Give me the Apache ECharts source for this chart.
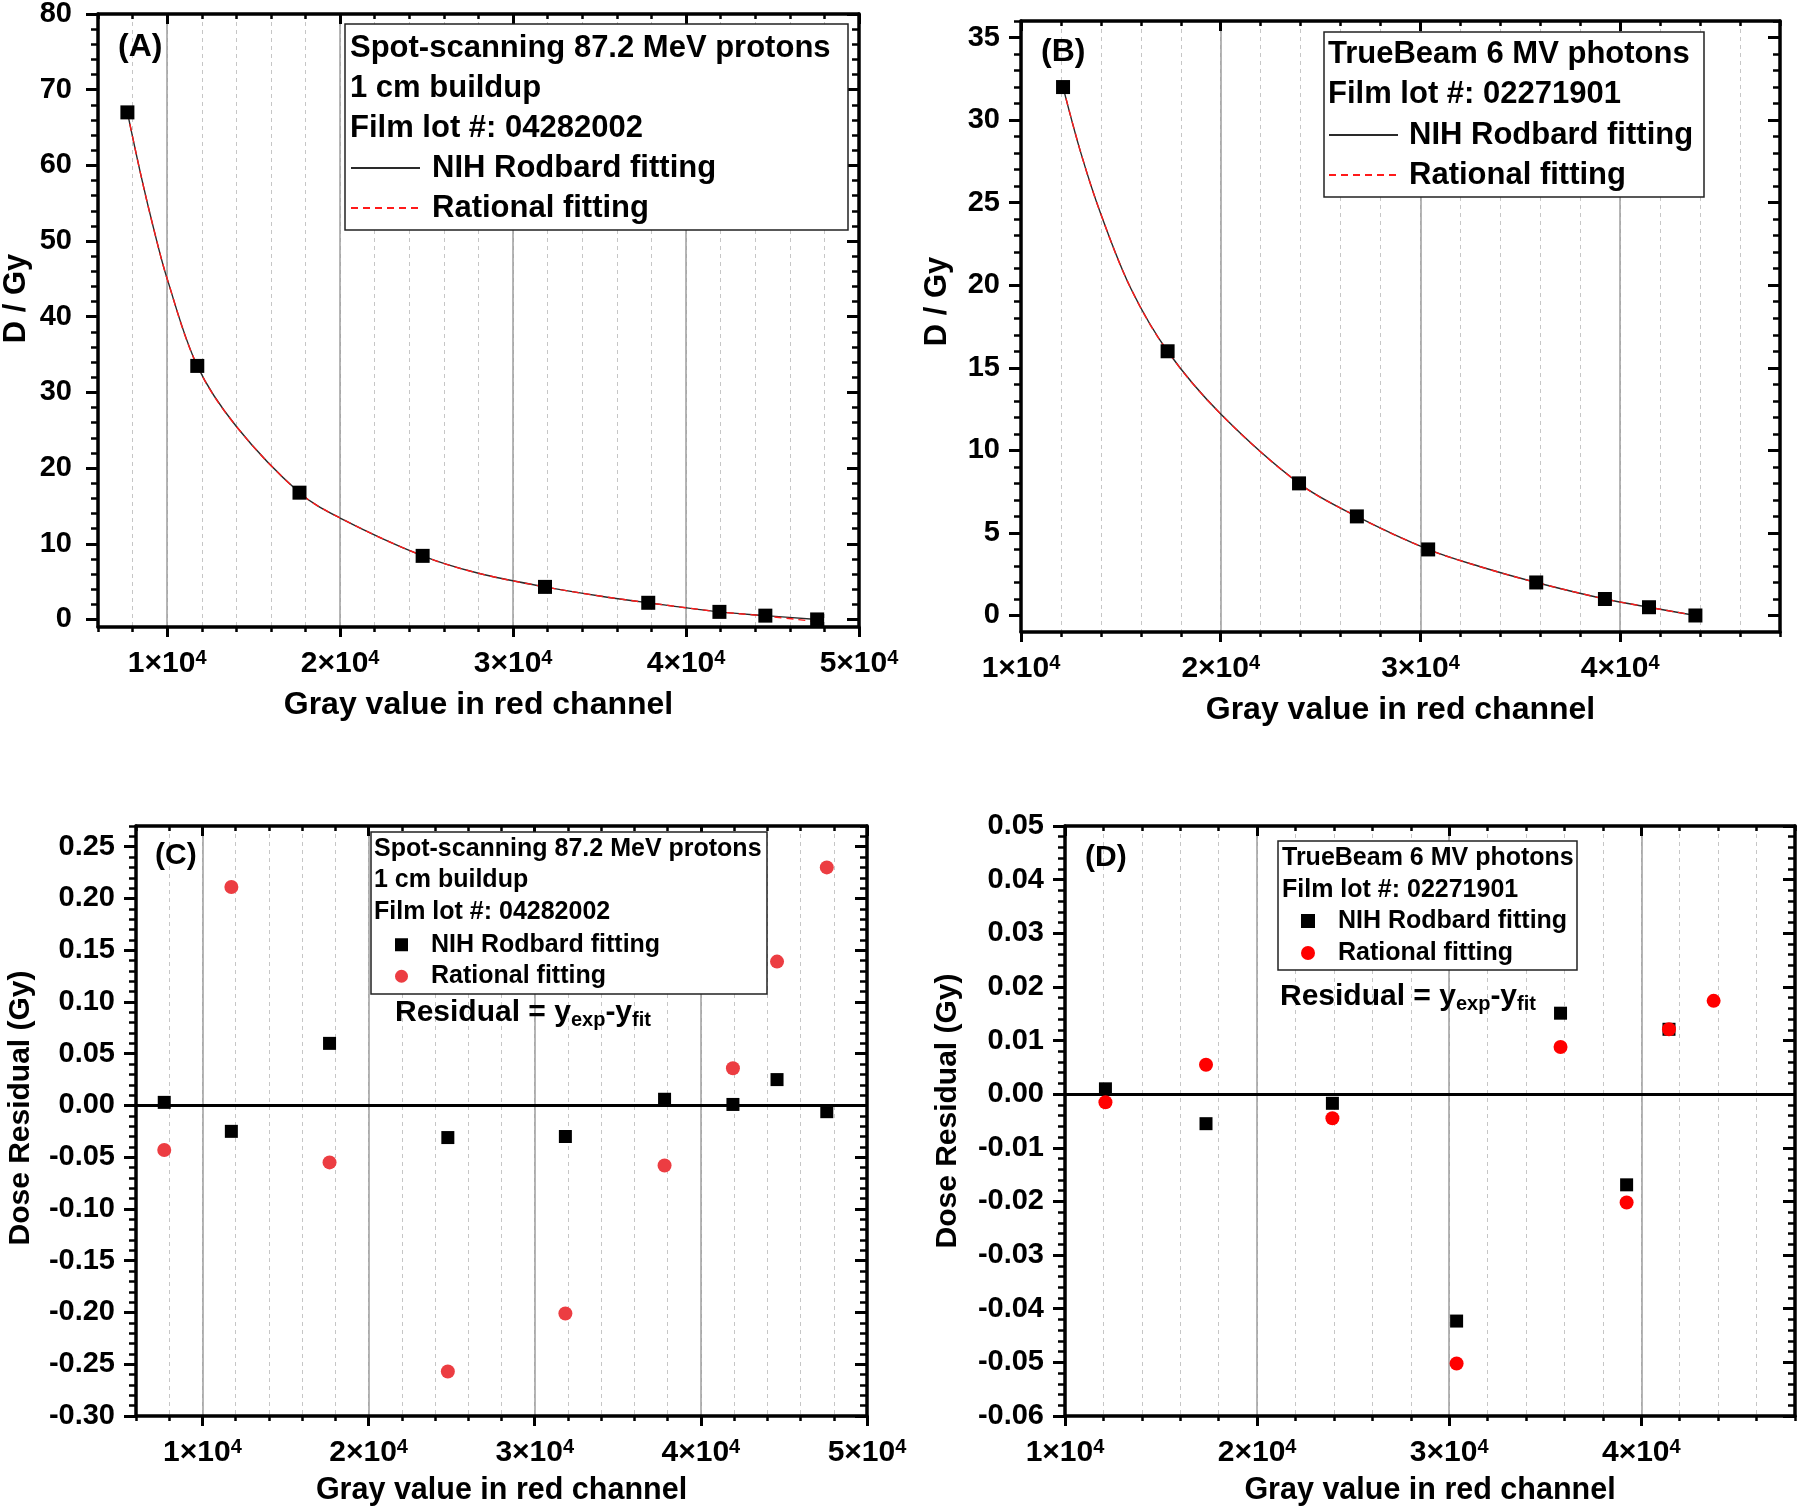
<!DOCTYPE html>
<html>
<head>
<meta charset="utf-8">
<title>Film calibration curves and dose residuals</title>
<script src="https://cdn.jsdelivr.net/npm/echarts@6.0.0/dist/echarts.min.js"></script>
<style>
  html, body { margin: 0; padding: 0; background: #fff; }
  #chart { width: 1800px; height: 1509px; }
</style>
</head>
<body>
<div id="chart"></div>
<script>
// values

// (A) spot-scanning 87.2 MeV protons, 1 cm buildup
const grayA = [7700, 11740, 17650, 24770, 31845, 37815, 41930, 44585, 47580];
const doseA = [67.0, 33.5, 16.75, 8.4, 4.3, 2.2, 1.0, 0.5, 0.0];
// both fitted curves, sampled along the drawn lines
const fitGrayA = [7700, 8500, 9200, 10000, 11740, 14000, 17650, 20000, 24770, 28000, 31845, 35000, 37815, 41930, 44585, 47580];
const rodbardA = [67.0, 58.5, 51.8, 45.0, 33.5, 25.5, 16.75, 13.4, 8.4, 6.1, 4.3, 3.1, 2.2, 1.0, 0.5, 0.0];
const rationalA = [67.0, 58.5, 51.8, 45.0, 33.5, 25.5, 16.75, 13.4, 8.4, 6.1, 4.3, 3.1, 2.2, 1.0, 0.45, -0.3];

// (B) TrueBeam 6 MV photons
const grayB = [12105, 17340, 23920, 26815, 30385, 35795, 39235, 41440, 43765];
const doseB = [32, 16, 8, 6, 4, 2, 1, 0.5, 0];
const fitGrayB = [12105, 13000, 14000, 15500, 17340, 20000, 23920, 26815, 30385, 33000, 35795, 39235, 41440, 43765];
const rodbardB = [32, 28.0, 24.3, 19.8, 16, 12.2, 8, 6, 4, 2.95, 2, 1, 0.5, 0];
const rationalB = [32, 28.0, 24.3, 19.8, 16, 12.2, 8, 6, 4, 2.95, 2, 1, 0.5, 0];

// (C) residuals of the proton fits
const grayC = [7700, 11740, 17650, 24770, 31845, 37815, 41930, 44585, 47580];
const residRodbardC = [0.003, -0.025, 0.060, -0.031, -0.030, 0.006, 0.001, 0.025, -0.006];
const residRationalC = [-0.043, 0.211, -0.055, -0.257, -0.201, -0.058, 0.036, 0.139, 0.230];

// (D) residuals of the photon fits (no black mark shows at the last point)
const grayD = [12105, 17340, 23920, 30385, 35795, 39235, 41440, 43765];
const residRodbardD = [0.001, -0.0055, -0.0017, -0.0423, 0.0151, -0.0169, 0.0121];
const residRationalD = [-0.0015, 0.0055, -0.0045, -0.0502, 0.0088, -0.0202, 0.0121, 0.0174];

// tick labels
const xTicksAC = [10000, 20000, 30000, 40000, 50000];
const xTicksBD = [10000, 20000, 30000, 40000];
const yTicksA = [0, 10, 20, 30, 40, 50, 60, 70, 80];
const yTicksB = [0, 5, 10, 15, 20, 25, 30, 35];
const yTicksC = [-0.30, -0.25, -0.20, -0.15, -0.10, -0.05, 0.00, 0.05, 0.10, 0.15, 0.20, 0.25];
const yTicksD = [-0.06, -0.05, -0.04, -0.03, -0.02, -0.01, 0.00, 0.01, 0.02, 0.03, 0.04, 0.05];

const protonLines = ['Spot-scanning 87.2 MeV protons', '1 cm buildup', 'Film lot #: 04282002'];
const photonLines = ['TrueBeam 6 MV photons', 'Film lot #: 02271901'];

const FONT = '"Liberation Sans", Arial, Helvetica, sans-serif';

const zip = (xs, ys) => ys.map((y, i) => [xs[i], y]);
const steps = (lo, hi, step) => {
    const n = Math.round((hi - lo) / step + 1e-9);
    const out = [];
    for (let i = 0; i <= n; i++) out.push(+(lo + i * step).toFixed(6));
    return out;
};

const panels = [
    {grid: {left: 98, top: 14, width: 761, height: 613}, xRange: [6000, 50000], yRange: [-1, 80],
        xTicks: xTicksAC, yTicks: yTicksA, yMinorStep: 2, yDigits: 0,
        yName: 'D / Gy', yNameGap: 66, yNameShift: 44, yNameSize: 31, yLabelMargin: 26, xNameGap: 62, xNameSize: 32},
    {grid: {left: 1021, top: 21, width: 759, height: 611}, xRange: [10000, 48000], yRange: [-1, 36],
        xTicks: xTicksBD, yTicks: yTicksB, yMinorStep: 1, yDigits: 0,
        yName: 'D / Gy', yNameGap: 68, yNameShift: 50, yNameSize: 31, yLabelMargin: 21, xNameGap: 62, xNameSize: 32},
    {grid: {left: 136, top: 826, width: 731, height: 590}, xRange: [6000, 50000], yRange: [-0.30, 0.27],
        xTicks: xTicksAC, yTicks: yTicksC, yMinorStep: 0.01, yDigits: 2,
        yName: 'Dose Residual (Gy)', yNameGap: 100, yNameShift: 26, yNameSize: 30, yLabelMargin: 21, xNameGap: 59, xNameSize: 30.5},
    {grid: {left: 1065, top: 826, width: 730, height: 590}, xRange: [10000, 48000], yRange: [-0.06, 0.05],
        xTicks: xTicksBD, yTicks: yTicksD, yMinorStep: 0.002, yDigits: 2,
        yName: 'Dose Residual (Gy)', yNameGap: 102, yNameShift: 20, yNameSize: 30, yLabelMargin: 21, xNameGap: 59, xNameSize: 30.5}
];

const frameLine = {show: true, onZero: false, lineStyle: {color: '#000', width: 3.5}};
const noLine = {show: false, onZero: false};
const tickMinor = (len, inside) => ({show: true, inside: inside, length: len, lineStyle: {color: '#000', width: 2.5}});
const tickMajor = (len, inside) => ({show: true, inside: inside, length: len, lineStyle: {color: '#000', width: 3}});

const sciRich = {
    b: {fontFamily: FONT, fontWeight: 'bold', fontSize: 30, color: '#000', lineHeight: 32},
    s: {fontFamily: FONT, fontWeight: 'bold', fontSize: 20, color: '#000', lineHeight: 15, verticalAlign: 'top'}
};

function xAxisSet(p, gi) {
    const [min, max] = p.xRange;
    const minor = steps(min, max, 2000);
    return [
        {
            type: 'value', gridIndex: gi, min: min, max: max, position: 'bottom',
            name: 'Gray value in red channel', nameLocation: 'middle', nameGap: p.xNameGap,
            nameTextStyle: {fontFamily: FONT, fontWeight: 'bold', fontSize: p.xNameSize, color: '#000'},
            axisLine: frameLine,
            axisTick: Object.assign(tickMinor(5, false), {customValues: minor}),
            axisLabel: {
                show: true, customValues: p.xTicks, margin: 21, rich: sciRich,
                formatter: v => '{b|' + Math.round(v / 10000) + '×10}{s|4}'
            },
            splitLine: {show: true, lineStyle: {color: '#c6c6c6', width: 1, type: [4, 4]}}
        },
        {
            type: 'value', gridIndex: gi, min: min, max: max, position: 'bottom',
            axisLine: noLine,
            axisTick: Object.assign(tickMajor(10, false), {customValues: p.xTicks}),
            axisLabel: {show: false},
            splitLine: {show: true, lineStyle: {color: '#9e9e9e', width: 1.5}}
        },
        {
            type: 'value', gridIndex: gi, min: min, max: max, position: 'top',
            axisLine: frameLine,
            axisTick: Object.assign(tickMinor(5, true), {customValues: minor}),
            axisLabel: {show: false}, splitLine: {show: false}
        },
        {
            type: 'value', gridIndex: gi, min: min, max: max, position: 'top',
            axisLine: noLine,
            axisTick: Object.assign(tickMajor(10, true), {customValues: p.xTicks}),
            axisLabel: {show: false}, splitLine: {show: false}
        }
    ];
}

function yAxisSet(p, gi) {
    const [min, max] = p.yRange;
    const minor = steps(p.yTicks[0], max, p.yMinorStep);
    return [
        {
            type: 'value', gridIndex: gi, min: min, max: max, position: 'left',
            name: p.yName, nameLocation: 'middle', nameGap: p.yNameGap,
            nameTextStyle: {fontFamily: FONT, fontWeight: 'bold', fontSize: p.yNameSize, color: '#000', padding: [0, 0, 0, p.yNameShift]},
            axisLine: frameLine,
            axisTick: Object.assign(tickMinor(7, false), {customValues: minor}),
            axisLabel: {
                show: true, customValues: p.yTicks, margin: p.yLabelMargin,
                fontFamily: FONT, fontWeight: 'bold', fontSize: 29, color: '#000',
                formatter: v => v.toFixed(p.yDigits)
            },
            splitLine: {show: false}
        },
        {
            type: 'value', gridIndex: gi, min: min, max: max, position: 'left',
            axisLine: noLine,
            axisTick: Object.assign(tickMajor(12, false), {customValues: p.yTicks}),
            axisLabel: {show: false}, splitLine: {show: false}
        },
        {
            type: 'value', gridIndex: gi, min: min, max: max, position: 'right',
            axisLine: frameLine,
            axisTick: Object.assign(tickMinor(7, true), {customValues: minor}),
            axisLabel: {show: false}, splitLine: {show: false}
        },
        {
            type: 'value', gridIndex: gi, min: min, max: max, position: 'right',
            axisLine: noLine,
            axisTick: Object.assign(tickMajor(12, true), {customValues: p.yTicks}),
            axisLabel: {show: false}, splitLine: {show: false}
        }
    ];
}

let xAxes = [], yAxes = [];
panels.forEach((p, gi) => {
    xAxes = xAxes.concat(xAxisSet(p, gi));
    yAxes = yAxes.concat(yAxisSet(p, gi));
});

// series helpers, axis index 4*gi is the main (labelled) axis of each panel
const fitLine = (name, gi, data, dashed) => ({
    type: 'line', name: name, xAxisIndex: 4 * gi, yAxisIndex: 4 * gi, data: data,
    symbol: 'none', smooth: 0.35, z: dashed ? 3 : 2,
    lineStyle: dashed ? {color: '#ff1a1a', width: 1.4, type: [7, 5]} : {color: '#2a2a2a', width: 1.4}
});
const marks = (name, gi, data, symbol, size, color) => ({
    type: 'scatter', name: name, xAxisIndex: 4 * gi, yAxisIndex: 4 * gi, data: data,
    symbol: symbol, symbolSize: size, itemStyle: {color: color, opacity: 1}, z: 5
});
const zeroLine = {
    silent: true, symbol: ['none', 'none'], label: {show: false},
    lineStyle: {color: '#000', width: 3, type: 'solid'}, data: [{yAxis: 0}]
};

const rodC = marks('NIH Rodbard fitting [C]', 2, zip(grayC, residRodbardC), 'rect', 13, '#000');
rodC.markLine = zeroLine;
rodC.z = 4;
const rodD = marks('NIH Rodbard fitting [D]', 3, zip(grayD, residRodbardD), 'rect', 13, '#000');
rodD.markLine = zeroLine;
rodD.z = 4;

const series = [
    fitLine('NIH Rodbard fitting [A]', 0, zip(fitGrayA, rodbardA), false),
    fitLine('Rational fitting [A]', 0, zip(fitGrayA, rationalA), true),
    marks('Measured [A]', 0, zip(grayA, doseA), 'rect', 14, '#000'),
    fitLine('NIH Rodbard fitting [B]', 1, zip(fitGrayB, rodbardB), false),
    fitLine('Rational fitting [B]', 1, zip(fitGrayB, rationalB), true),
    marks('Measured [B]', 1, zip(grayB, doseB), 'rect', 14, '#000'),
    rodC,
    marks('Rational fitting [C]', 2, zip(grayC, residRationalC), 'circle', 14, '#ec3d42'),
    rodD,
    marks('Rational fitting [D]', 3, zip(grayD, residRationalD), 'circle', 14, '#ff0000')
];

const plainName = name => name.replace(/ \[[A-D]\]$/, '');
const legendOf = (key, left, top, w, h, size, lh, padLeft) => {
    const lg = {
        data: ['NIH Rodbard fitting [' + key + ']', 'Rational fitting [' + key + ']'],
        orient: 'vertical', left: left, top: top, padding: 0, itemGap: 0,
        itemWidth: w, itemHeight: h, selectedMode: false, formatter: plainName,
        textStyle: {fontFamily: FONT, fontWeight: 'bold', fontSize: size, color: '#000', lineHeight: lh, padding: [0, 0, 0, padLeft]}
    };
    // line legends: hide the marker drawn in the middle of the line sample
    if (key === 'A' || key === 'B') lg.itemStyle = {opacity: 0};
    return lg;
};

const legends = [
    legendOf('A', 350, 148, 69, 14, 31, 40, 7),
    legendOf('B', 1328, 115, 69, 14, 31, 40, 6),
    legendOf('C', 395, 929, 13, 13, 25, 31.5, 18),
    legendOf('D', 1301, 905, 14, 14, 25, 32, 18)
];

// legend boxes, header lines, panel letters, residual formula
const graphics = [];
const boxes = [[345, 24, 503, 206], [1324, 32, 380, 165], [371, 832, 396, 162], [1278, 841, 299, 129]];
boxes.forEach(b => graphics.push({
    type: 'rect', z: 3, shape: {x: b[0], y: b[1], width: b[2], height: b[3]},
    style: {fill: '#fff', stroke: '#222', lineWidth: 1.5}
}));
const textAt = (text, x, y, size) => ({
    type: 'text', z: 6, x: x, y: y,
    style: {text: text, font: 'bold ' + size + 'px ' + FONT, fill: '#000', align: 'left', verticalAlign: 'middle'}
});
protonLines.forEach((t, i) => graphics.push(textAt(t, 350, 48 + 40 * i, 31)));
photonLines.forEach((t, i) => graphics.push(textAt(t, 1328, 54 + 40 * i, 31)));
protonLines.forEach((t, i) => graphics.push(textAt(t, 374, 849 + 31.5 * i, 25)));
photonLines.forEach((t, i) => graphics.push(textAt(t, 1282, 858 + 32 * i, 25)));
graphics.push(textAt('(A)', 118, 47, 32), textAt('(B)', 1041, 52, 32), textAt('(C)', 155, 856, 30), textAt('(D)', 1085, 858, 30));

const formula = (x, y) => ({
    type: 'text', z: 6, x: x, y: y,
    style: {
        text: '{n|Residual = y}{s|exp}{n|-y}{s|fit}', align: 'left', verticalAlign: 'middle',
        rich: {
            n: {font: 'bold 30px ' + FONT, fill: '#000', lineHeight: 34},
            s: {font: 'bold 20px ' + FONT, fill: '#000', lineHeight: 16, verticalAlign: 'bottom'}
        }
    }
});
graphics.push(formula(395, 1013), formula(1280, 997));

const chart = echarts.init(document.getElementById('chart'), null, {renderer: 'canvas'});
chart.setOption({
    animation: false,
    backgroundColor: '#fff',
    textStyle: {fontFamily: FONT},
    grid: panels.map(p => Object.assign({containLabel: false, outerBoundsMode: 'none'}, p.grid)),
    xAxis: xAxes,
    yAxis: yAxes,
    legend: legends,
    graphic: graphics,
    series: series
});
</script>
</body>
</html>
